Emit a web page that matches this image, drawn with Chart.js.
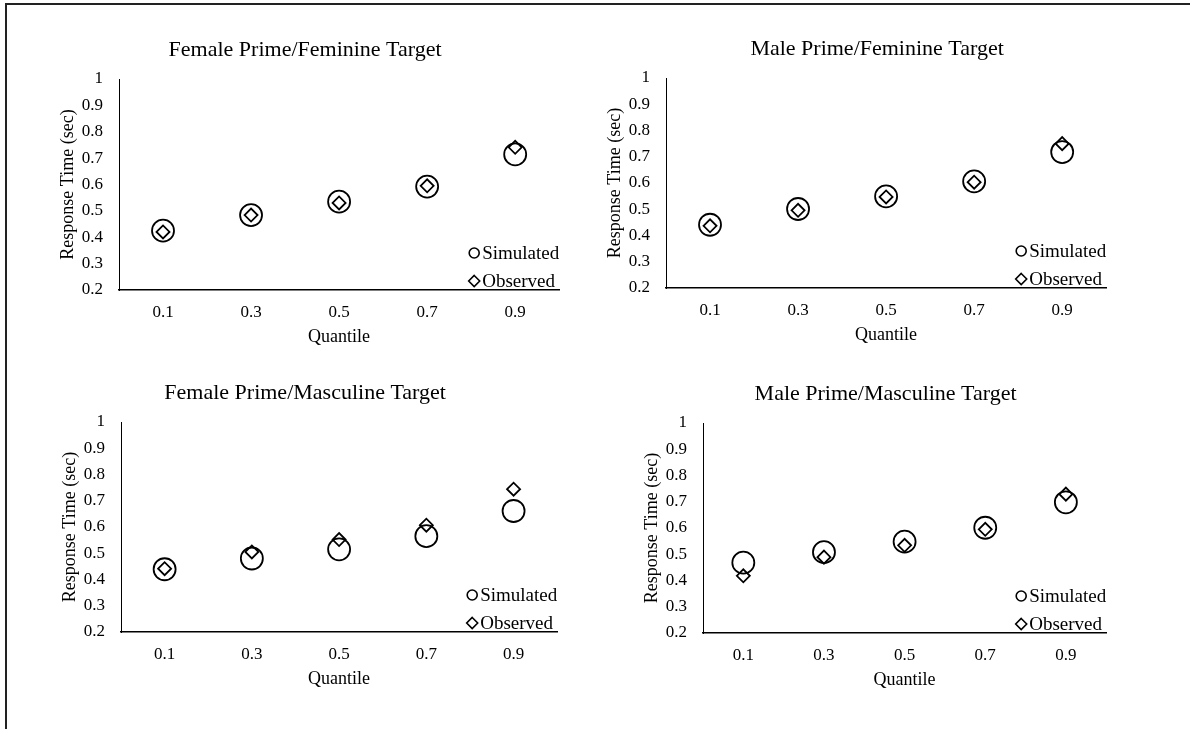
<!DOCTYPE html>
<html>
<head>
<meta charset="utf-8">
<script src="https://cdn.jsdelivr.net/npm/chart.js@4/dist/chart.umd.min.js"></script>
<style>
  html, body { margin: 0; padding: 0; background: #fff; }
  body { width: 1190px; height: 729px; position: relative; overflow: hidden; }
  .frame {
    position: absolute; left: 5px; top: 3px; width: 1190px; height: 724px;
    border-top: 2px solid #222; border-left: 2px solid #222; border-bottom: 1px solid #e4e4e4;
  }
  canvas { position: absolute; }
  #c1 { left: 44px; top: 39px; }
  #c2 { left: 591px; top: 38px; }
  #c3 { left: 46px; top: 382px; }
  #c4 { left: 628px; top: 383px; }
</style>
</head>
<body>
<div class="frame"></div>
<canvas id="c1" width="528" height="311"></canvas>
<canvas id="c2" width="528" height="310"></canvas>
<canvas id="c3" width="524" height="310"></canvas>
<canvas id="c4" width="491" height="310"></canvas>
<script>
const quantiles = ["0.1", "0.3", "0.5", "0.7", "0.9"]

// Female Prime / Feminine Target
const ffSimulated = [0.425, 0.484, 0.535, 0.592, 0.714]
const ffObserved  = [0.420, 0.484, 0.530, 0.595, 0.741]

// Male Prime / Feminine Target
const mfSimulated = [0.441, 0.501, 0.549, 0.606, 0.718]
const mfObserved  = [0.437, 0.496, 0.547, 0.603, 0.750]

// Female Prime / Masculine Target
const fmSimulated = [0.439, 0.480, 0.515, 0.565, 0.661]
const fmObserved  = [0.441, 0.505, 0.552, 0.607, 0.744]

// Male Prime / Masculine Target
const mmSimulated = [0.468, 0.508, 0.548, 0.601, 0.698]
const mmObserved  = [0.418, 0.489, 0.534, 0.595, 0.729]

const seriesNames = ["Simulated", "Observed"]

Chart.defaults.font.family = "'Liberation Serif', 'Times New Roman', serif"
Chart.defaults.color = "#000"

const serif = "'Liberation Serif', 'Times New Roman', serif"

// title centred at an offset from the plot area, as in the original figure
const panelTitle = {
  id: "panelTitle",
  afterDraw(chart, args, opts) {
    const { ctx, chartArea } = chart
    ctx.save()
    ctx.font = "22px " + serif
    ctx.fillStyle = "#000"
    ctx.textAlign = "center"
    ctx.textBaseline = "middle"
    ctx.fillText(opts.text, (chartArea.left + chartArea.right) / 2 + opts.dx, chartArea.top - 29)
    ctx.restore()
  }
}

// legend sitting in the lower right corner of the plot area
const cornerLegend = {
  id: "cornerLegend",
  afterDraw(chart) {
    const { ctx, chartArea } = chart
    const x = chartArea.right - 85
    ctx.save()
    ctx.strokeStyle = "#000"
    ctx.lineWidth = 1.6
    ctx.fillStyle = "#000"
    ctx.font = "19px " + serif
    ctx.textBaseline = "middle"
    chart.data.datasets.forEach((ds, i) => {
      const y = chartArea.bottom - 37 + i * 28
      ctx.beginPath()
      if (ds.pointStyle === "circle") {
        ctx.arc(x, y, 5, 0, Math.PI * 2)
      } else {
        ctx.moveTo(x, y - 5.5)
        ctx.lineTo(x + 5.5, y)
        ctx.lineTo(x, y + 5.5)
        ctx.lineTo(x - 5.5, y)
        ctx.closePath()
      }
      ctx.stroke()
      ctx.fillText(ds.label, x + 8, y + 1)
    })
    ctx.restore()
  }
}

function makePanel(id, title, titleDx, simulated, observed) {

  new Chart(document.getElementById(id), {

    type: "line",

    data: {
      labels: quantiles,
      datasets: [
        {
          label: seriesNames[0],
          data: simulated,
          showLine: false,
          pointStyle: "circle",
          pointRadius: 11,
          pointBorderWidth: 1.8,
          pointBorderColor: "#000",
          pointBackgroundColor: "rgba(0,0,0,0)",
          borderColor: "#000"
        },
        {
          label: seriesNames[1],
          data: observed,
          showLine: false,
          pointStyle: "rectRot",
          pointRadius: 6.5,
          pointBorderWidth: 1.8,
          pointBorderColor: "#000",
          pointBackgroundColor: "rgba(0,0,0,0)",
          borderColor: "#000"
        }
      ]
    },

    options: {
      responsive: false,
      animation: false,
      events: [],
      layout: { padding: { top: 40, right: 5, left: 0, bottom: 0 } },

      plugins: {
        legend: { display: false },
        tooltip: { enabled: false },
        title: { display: false },
        panelTitle: { text: title, dx: titleDx }
      },

      scales: {
        x: {
          type: "category",
          offset: true,
          grid: { display: false, drawTicks: false },
          border: { display: true, color: "#000", width: 1.5 },
          ticks: { font: { size: 17 }, padding: 12, color: "#000" },
          title: { display: true, text: "Quantile", font: { size: 18 }, padding: { top: 0, bottom: 2 }, color: "#000" },
          afterFit(scale) { scale.height = 60 }
        },
        y: {
          min: 0.2,
          max: 1,
          grid: { display: false, drawTicks: false },
          border: { display: true, color: "#000", width: 1 },
          ticks: {
            stepSize: 0.1,
            font: { size: 17 },
            padding: 16,
            color: "#000",
            callback: v => String(Math.round(v * 10) / 10)
          },
          title: { display: true, text: "Response Time (sec)", font: { size: 18 }, padding: { top: 13, bottom: 0 }, color: "#000" },
          afterFit(scale) { scale.width = 75 }
        }
      }
    },

    plugins: [panelTitle, cornerLegend]
  })
}

makePanel("c1", "Female Prime/Feminine Target", -34, ffSimulated, ffObserved)
makePanel("c2", "Male Prime/Feminine Target", -9, mfSimulated, mfObserved)
makePanel("c3", "Female Prime/Masculine Target", -34, fmSimulated, fmObserved)
makePanel("c4", "Male Prime/Masculine Target", -19, mmSimulated, mmObserved)
</script>
</body>
</html>
